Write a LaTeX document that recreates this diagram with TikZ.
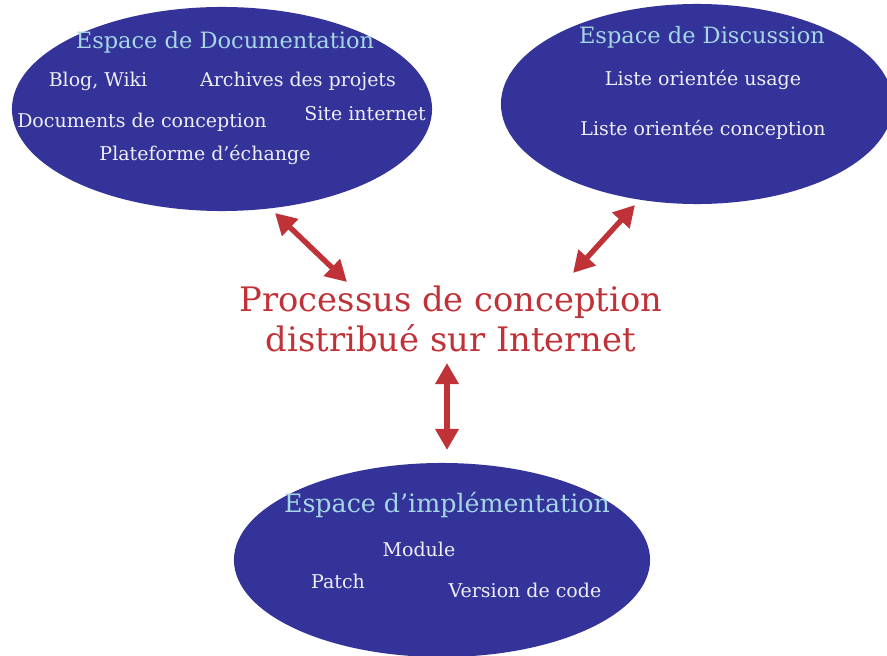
\documentclass[tikz,border=0pt]{standalone}
\usepackage{fontspec}
\setmainfont{DejaVu Serif}
\usetikzlibrary{shapes.geometric,arrows.meta}
\definecolor{espblue}{RGB}{51,51,153}
\definecolor{procred}{RGB}{190,50,56}
\definecolor{titleblue}{RGB}{165,215,228}
\definecolor{itemwhite}{RGB}{238,238,246}
\begin{document}
\begin{tikzpicture}[x=.025cm, y=-.025cm, >={Triangle[length=15pt,width=16pt]},
  espace/.style={ellipse, fill=espblue, inner sep=0pt},
  titre/.style={text=titleblue, font=\fontsize{16}{19}\selectfont},
  item/.style={text=itemwhite, font=\fontsize{13.5}{16}\selectfont},
  lien/.style={<->, procred, line width=3.8pt}]
\useasboundingbox (0,0) rectangle (887,656);
\clip (0,0) rectangle (887,656);
% les trois espaces
\node[espace, minimum width=10.5cm, minimum height=5.1cm] (doc) at (222,109) {};
\node[espace, minimum width=9.8cm, minimum height=5cm] (disc) at (697,104) {};
\node[espace, minimum width=10.4cm, minimum height=4.85cm] (impl) at (442,560) {};
% documentation
\node[titre] (doctitre) at (225,42) {Espace de Documentation};
\node[item] (blog) at (98,81) {Blog, Wiki};
\node[item] (archives) at (298,81) {Archives des projets};
\node[item] (site) at (365,114) {Site internet};
\node[item] (docs) at (142,122) {Documents de conception};
\node[item] (plateforme) at (205,155) {Plateforme d’échange};
% discussion
\node[titre] (disctitre) at (702,37) {Espace de Discussion};
\node[item] (usage) at (703,80) {Liste orientée usage};
\node[item] (concept) at (703,130) {Liste orientée conception};
% implementation
\node[titre, font=\fontsize{18}{21}\selectfont] (impltitre) at (447,505) {Espace d’implémentation};
\node[item] (module) at (419,549) {Module};
\node[item] (patch) at (338,581) {Patch};
\node[item] (version) at (525,590) {Version de code};
% processus
\node[text=procred, align=center, font=\fontsize{24}{28.5}\selectfont] (proc) at (451,319) {Processus de conception\\distribué sur Internet};
% liens
\coordinate (d1) at (275,213); \coordinate (d2) at (347,282);
\coordinate (c1) at (635,205); \coordinate (c2) at (573,273);
\coordinate (i1) at (447,363); \coordinate (i2) at (447,450);
\draw[lien] (d1)--(d2);
\draw[lien] (c1)--(c2);
\draw[lien] (i1)--(i2);
\end{tikzpicture}
\end{document}
